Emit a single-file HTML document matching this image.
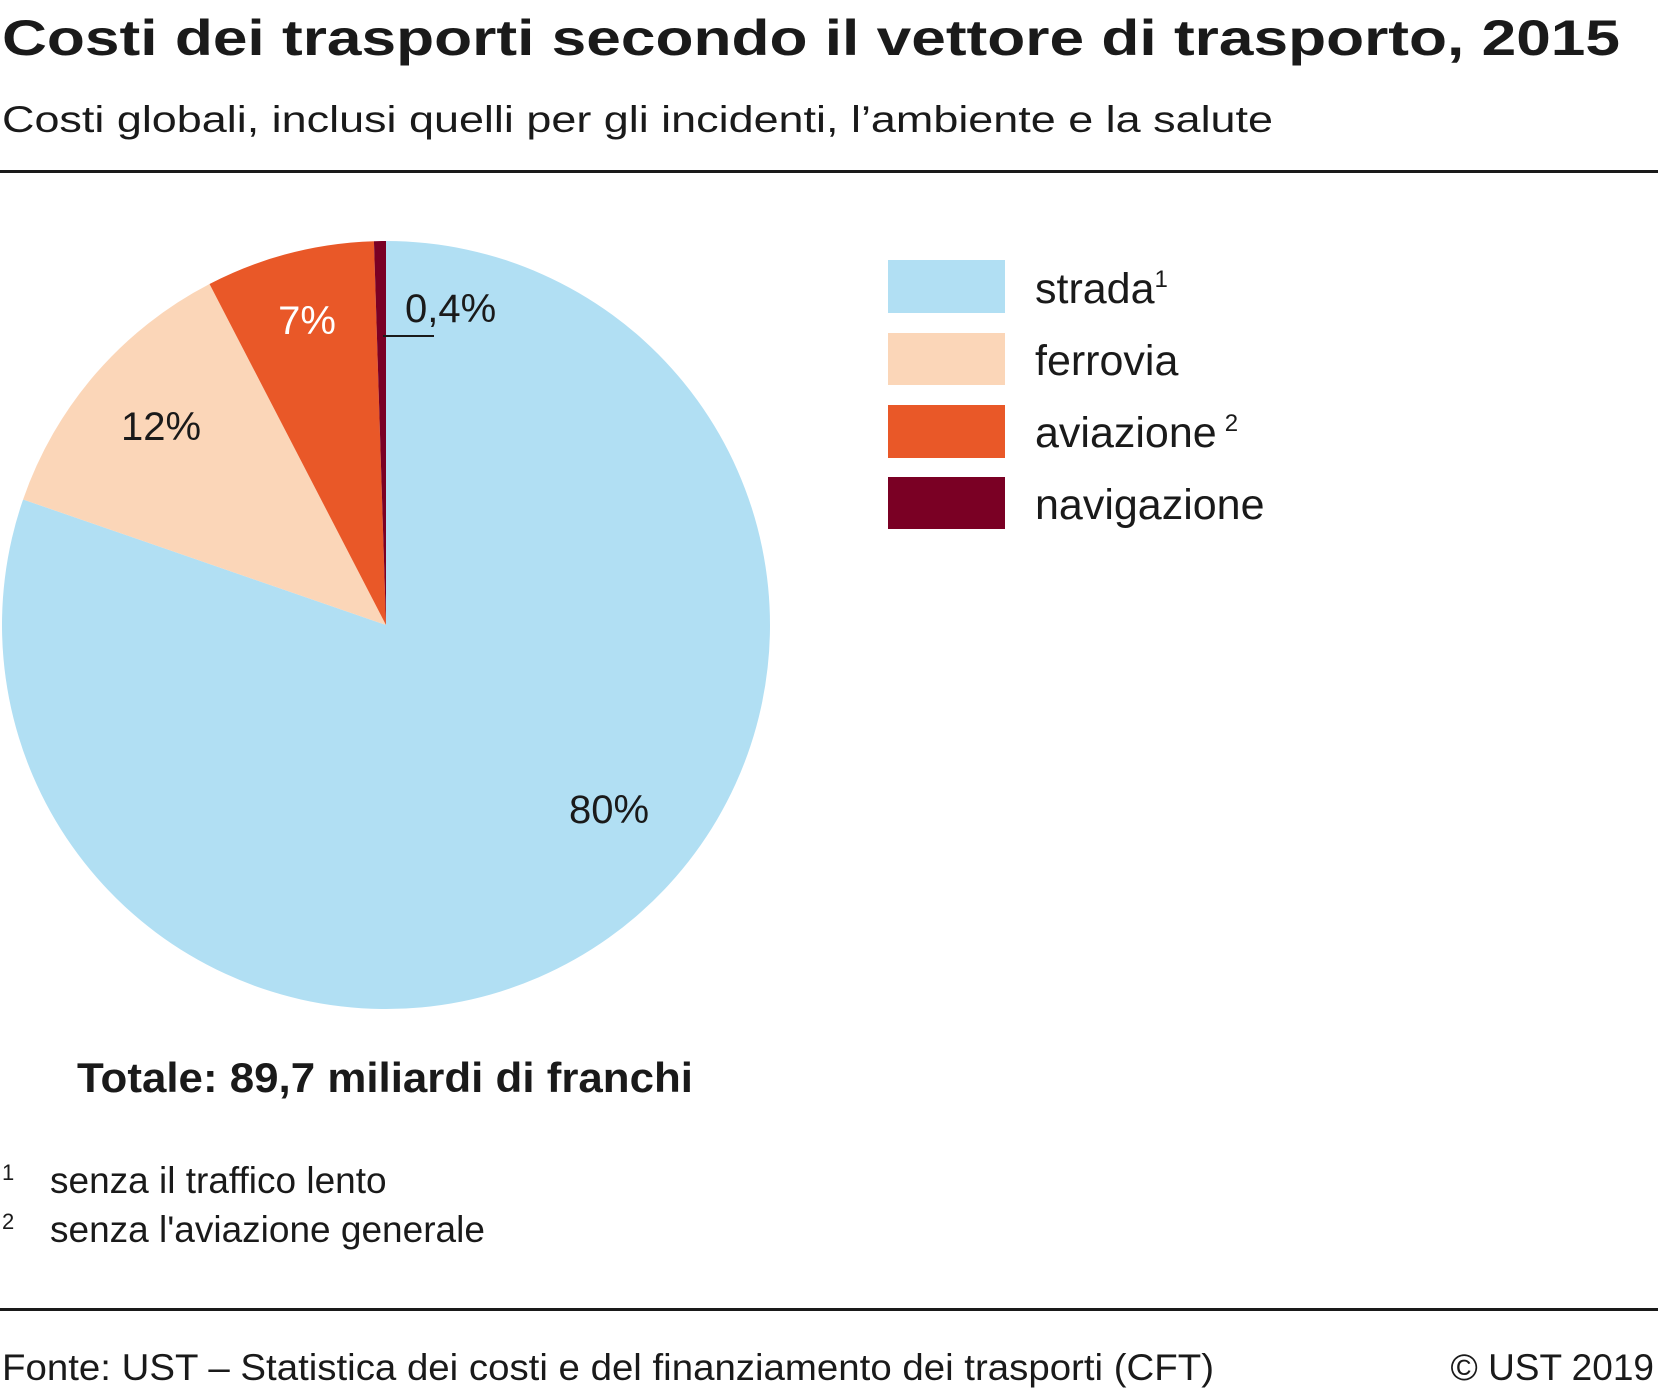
<!DOCTYPE html>
<html><head><meta charset="utf-8"><style>
body{margin:0;background:#fff}
svg text{font-family:"Liberation Sans",sans-serif;fill:#1a1a1a}
</style></head><body>
<svg width="1658" height="1389" viewBox="0 0 1658 1389">
<text x="2" y="55" font-size="50" font-weight="bold" textLength="1618" lengthAdjust="spacingAndGlyphs">Costi dei trasporti secondo il vettore di trasporto, 2015</text>
<text x="2" y="132" font-size="37" textLength="1271" lengthAdjust="spacingAndGlyphs">Costi globali, inclusi quelli per gli incidenti, l’ambiente e la salute</text>
<rect x="0" y="170" width="1658" height="3" fill="#1a1a1a"/>
<g id="pie"></g>
<line x1="383" y1="336" x2="434" y2="336" stroke="#1a1a1a" stroke-width="2"/>
<text x="307" y="334" font-size="40" style="fill:#fff" text-anchor="middle">7%</text>
<text x="161" y="440" font-size="40" text-anchor="middle">12%</text>
<text x="609" y="823" font-size="40" text-anchor="middle">80%</text>
<text x="405" y="322" font-size="40">0,4%</text>
<g>
<rect x="888" y="260" width="117" height="53" fill="#b1dff3"/>
<text x="1035" y="303" font-size="43">strada<tspan font-size="24" dy="-16">1</tspan></text>
<rect x="888" y="333" width="117" height="52" fill="#fbd6b8"/>
<text x="1035" y="375" font-size="43">ferrovia</text>
<rect x="888" y="405" width="117" height="53" fill="#e95828"/>
<text x="1035" y="447" font-size="43">aviazione<tspan font-size="24" dx="8" dy="-16">2</tspan></text>
<rect x="888" y="477" width="117" height="52" fill="#7a0024"/>
<text x="1035" y="519" font-size="43">navigazione</text>
</g>
<text x="77" y="1092" font-size="42" font-weight="bold" textLength="616" lengthAdjust="spacingAndGlyphs">Totale: 89,7 miliardi di franchi</text>
<text x="2" y="1180" font-size="22">1</text>
<text x="50" y="1193" font-size="37">senza il traffico lento</text>
<text x="2" y="1229" font-size="22">2</text>
<text x="50" y="1242" font-size="37">senza l'aviazione generale</text>
<rect x="0" y="1308" width="1658" height="3" fill="#1a1a1a"/>
<text x="2" y="1380" font-size="37" textLength="1212" lengthAdjust="spacingAndGlyphs">Fonte: UST – Statistica dei costi e del finanziamento dei trasporti (CFT)</text>
<text x="1654" y="1380" font-size="37" text-anchor="end">© UST 2019</text>
</svg>
<script>
const categories=["strada","ferrovia","aviazione","navigazione"];
const values=[80.3,12.1,7.1,0.5];
const colors=["#b1dff3","#fbd6b8","#e95828","#7a0024"];
const cx=386,cy=625,r=384;
const g=document.getElementById('pie');
const total=values.reduce((a,b)=>a+b,0);
let a0=0;
function pt(a){return [cx+r*Math.sin(a),cy-r*Math.cos(a)];}
values.forEach((v,i)=>{
  const a1=a0+v/total*2*Math.PI;
  const p0=pt(a0),p1=pt(a1);
  const large=(a1-a0)>Math.PI?1:0;
  const p=document.createElementNS('http://www.w3.org/2000/svg','path');
  p.setAttribute('d',`M${cx},${cy}L${p0[0]},${p0[1]}A${r},${r} 0 ${large} 1 ${p1[0]},${p1[1]}Z`);
  p.setAttribute('fill',colors[i]);
  
  
  g.appendChild(p);
  a0=a1;
});
</script>
</body></html>
